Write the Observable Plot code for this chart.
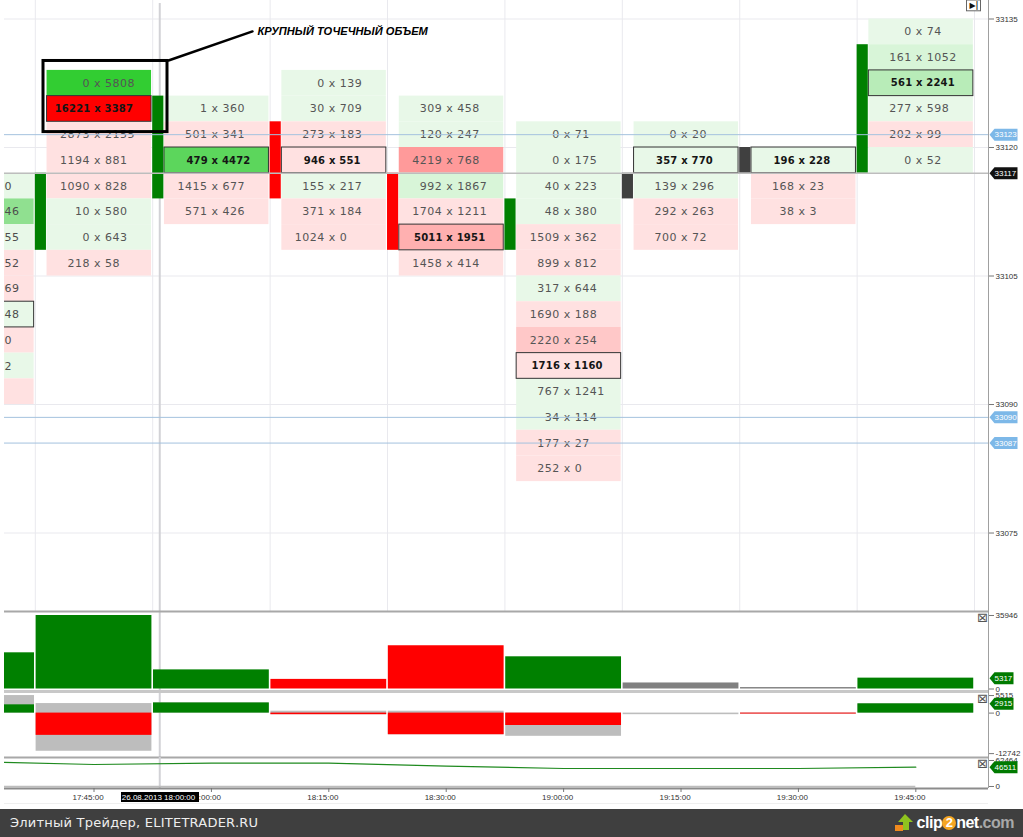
<!DOCTYPE html>
<html><head><meta charset="utf-8">
<script src="https://cdn.jsdelivr.net/npm/d3@7"></script>
<script src="https://cdn.jsdelivr.net/npm/@observablehq/plot@0.6"></script>
<style>
html,body{margin:0;padding:0;background:#fff;width:1023px;height:837px;overflow:hidden}
#chart svg{display:block}
.cell text{letter-spacing:.5px}
.poc text{letter-spacing:.2px}
#foot{height:28px;background:#3f3f3f;color:#eee;position:relative;font:13px "DejaVu Sans",sans-serif;line-height:28px;letter-spacing:.23px}
#foot .t{position:absolute;left:10px;top:0}
#foot .logo{position:absolute;right:9px;top:0;font:bold 16px "Liberation Sans",sans-serif;line-height:28px;letter-spacing:-.5px;color:#fff;display:flex;align-items:center}
#foot .two{display:inline-block;background:#f5a623;border-radius:50%;width:14px;height:14px;line-height:14px;text-align:center;font-size:13px}
#foot .com{color:#a8a8a8}
</style></head><body>
<div id="chart"></div>
<div id="foot"><span class="t">Элитный Трейдер, ELITETRADER.RU</span>
<span class="logo"><svg width="18" height="18" viewBox="0 0 18 18" style="margin-right:4px"><path d="M10 0 L18 8 H14 V16 H8 V8 H3Z" fill="#8fc31f"/><rect x="0" y="11" width="8" height="6" fill="#f08a1d"/></svg>clip<span class="two">2</span>net<span class="com">.com</span></span></div>
<script>
// ---- data ----
const slots = [0,1,2,3,4,5,6,7];
const timeLabels = ["17:45:00","18:00:00","18:15:00","18:30:00","19:00:00","19:15:00","19:30:00","19:45:00"];
const rowTop = [33129,33126,33129,33126,33123,33123,33120,33135];
const bids = [
 [0,16221,2873,1194,1090,10,0,218],
 [1,501,479,1415,571],
 [0,30,273,946,155,371,1024],
 [309,120,4219,992,1704,5011,1458],
 [0,0,40,48,1509,899,317,1690,2220,1716,767,34,177,252],
 [0,357,139,292,700],
 [196,168,38],
 [0,161,561,277,202,0]
];
const asks = [
 [5808,3387,2155,881,828,580,643,58],
 [360,341,4472,677,426],
 [139,709,183,551,217,184,0],
 [458,247,768,1867,1211,1951,414],
 [71,175,223,380,362,812,644,188,254,1160,1241,114,27,0],
 [20,770,296,263,72],
 [228,23,3],
 [74,1052,2241,598,99,52]
];
// the column cut by the left edge: only the end of each label is visible
const edgePrices = [33117,33114,33111,33108,33105,33102,33099,33096,33093];
const edgeLabels = ["0","46","55","52","69","48","0","2",""];
const edgeDelta  = [300,2500,300,-300,-300,300,-300,300,-300];
const candleTop = [33117,33126,33123,33117,33114,33117,33120,33132];
const candleBot = [33108,33114,33114,33108,33108,33114,33117,33117];
const candleDir = ["up","up","down","down","up","flat","flat","up"];
const tickPrices = [33135,33120,33105,33090,33075];
const blueLevels = [33123,33090,33087];
const lastPrice = 33117;
const volSlots = [-1,0,1,2,3,4,5,6,7];
const volValues = [17700,35946,9350,4700,21150,15750,2950,700,5317];
const volDir = ["up","up","up","down","down","up","flat","flat","up"];
const deltaClose = [2600,-7000,3200,-500,-6800,-3900,-500,-300,2915];
const deltaHigh = [5515,3000,3200,600,600,0,0,0,2915];
const deltaLow = [0,-12000,0,-500,-6800,-7300,-500,-300,0];
const cumSlots = [-1,0,1,2,3,4,5,6,7];
const cumValues = [59500,52850,55970,55970,48760,43240,43240,43240,46511];

// ---- helpers ----
const W = 1023, ML = 4, MR = 35;
const xDomain = [-0.7624, 7.619];
const pxPerSlot = (W-ML-MR)/(xDomain[1]-xDomain[0]);
const rightX = xDomain[1];
const px = p => xDomain[0] + (p-ML)/pxPerSlot;
const FONT = '"Liberation Sans",Arial,sans-serif';
const cellFont = '"DejaVu Sans",sans-serif';
const dirColor = {up:"#008000",down:"#ff0000",flat:"#808080"};
const GRID = "#e9e9ee", CROSS = "#d2d2d6", FRAME = "#a8a8a8";
const crossSlot = 0.56;
const shade = d3.scaleThreshold()
  .domain([-10000,-3300,-2900,-1800,0,870,1200,2200,3000,5000])
  .range(["#ff0000","#ff9a9a","#ffb0b0","#ffc8c8","#ffe1e1","#e8f8e8","#d8f5d8","#b8ecb8","#90e090","#5cd65c","#32cd32"]);
const cells = [];
slots.forEach(i=>{
  const vols = bids[i].map((b,k)=>b+asks[i][k]);
  const m = d3.max(vols);
  bids[i].forEach((b,k)=>{
    const poc = vols[k]===m;
    cells.push({slot:i,price:rowTop[i]-3*k,bid:b,ask:asks[i][k],poc});
  });
});
const edge = edgePrices.map((p,k)=>({price:p,label:edgeLabels[k],delta:edgeDelta[k],poc:k===5}));
const labelX = (d,digit,sp,xw)=> d.slot+0.03-(String(d.bid).length*digit+sp+xw/2)/pxPerSlot;
const tagSym = w => ({draw(c){c.moveTo(0,0);c.lineTo(5,-6);c.lineTo(w,-6);c.lineTo(w,6);c.lineTo(5,6);c.closePath();}});
const tagX = px(989);
const base = {width:W,marginLeft:ML,marginRight:MR,marginTop:0,marginBottom:0,x:{domain:xDomain,axis:null},
  style:{fontFamily:FONT,fontSize:"8px",color:"#333",background:"transparent",overflow:"visible"}};
const rightAxis = t => Plot.axisY(t,{anchor:"right",tickSize:5,tickPadding:2,label:null,tickFormat:d=>String(d),fontSize:8,stroke:"#777"});
const rightLine = Plot.ruleX([rightX],{stroke:"#a0a0a0"});
const tagMarks = (vals,w,color) => [
  Plot.dot(vals,{x:tagX,y:d=>d.at,symbol:tagSym(w),fill:color}),
  Plot.text(vals,{x:tagX,y:d=>d.at,dx:5,textAnchor:"start",fill:"#fff",fontSize:8,text:d=>String(d.v)})
];

// ---- annotation ----
const boxX = [px(43),px(167)], boxP = [33130.1,33121.8];
const leadX = [px(168),px(252)], leadP = [33130.15,33133.55];

// ---- main panel ----
const yMainDomain=[33065.84,33137.16];
const main = Plot.plot({...base,height:611,y:{domain:yMainDomain,axis:null},marks:[
  Plot.ruleX([-1,0,1,2,3,4,5,6,7].map(i=>i+.5),{stroke:GRID,clip:true}),
  Plot.ruleY(tickPrices,{stroke:GRID}),
  Plot.ruleX([crossSlot],{stroke:CROSS,strokeWidth:2,y1:33136.8,y2:yMainDomain[0]}),
  Plot.rect(edge,{x1:-1.4,x2:-0.51,y1:d=>d.price-3,y2:d=>d.price,fill:d=>shade(d.delta),clip:true}),
  Plot.rect(edge.filter(d=>d.poc),{x1:-1.4,x2:-0.51,y1:d=>d.price-3,y2:d=>d.price,fill:"none",stroke:"#333",clip:true}),
  Plot.text(edge,{frameAnchor:"left",y:d=>d.price-1.5,text:"label",fontFamily:cellFont,fontSize:11,fill:"#4d4d4d",textAnchor:"start",className:"cell"}),
  Plot.rect(cells,{x1:d=>d.slot-.4,x2:d=>d.slot+.49,y1:d=>d.price-3,y2:d=>d.price,fill:d=>shade(d.ask-d.bid)}),
  Plot.rect(cells.filter(d=>d.poc),{x1:d=>d.slot-.4,x2:d=>d.slot+.49,y1:d=>d.price-3,y2:d=>d.price,fill:"none",stroke:"#333"}),
  Plot.rect(slots,{x1:i=>i-.5,x2:i=>i-.405,y1:i=>candleBot[i],y2:i=>candleTop[i],fill:i=>candleDir[i]==="flat"?"#404040":dirColor[candleDir[i]]}),
  Plot.text(cells.filter(d=>!d.poc),{x:d=>labelX(d,7.5,4,7),y:d=>d.price-1.5,text:d=>`${d.bid} x ${d.ask}`,textAnchor:"start",fontFamily:cellFont,fontSize:11,fill:"#555",className:"cell"}),
  Plot.text(cells.filter(d=>d.poc),{x:d=>labelX(d,7.16,3.7,6.7),y:d=>d.price-1.5,text:d=>`${d.bid} x ${d.ask}`,textAnchor:"start",fontFamily:cellFont,fontSize:10,fontWeight:"bold",fill:"#151515",className:"poc"}),
  Plot.ruleY([lastPrice],{stroke:"#bdbdbd",strokeWidth:1.5}),
  Plot.ruleY(blueLevels,{y:d=>d-1.5,stroke:"#a4c2de"}),
  Plot.rect([0],{x1:boxX[0],x2:boxX[1],y1:boxP[1],y2:boxP[0],fill:"none",stroke:"#000",strokeWidth:3}),
  Plot.line(leadX.map((x,k)=>[x,leadP[k]]),{stroke:"#000",strokeWidth:2.5}),
  Plot.text(["КРУПНЫЙ ТОЧЕЧНЫЙ ОБЪЕМ"],{x:px(257),y:33133.5,textAnchor:"start",fontFamily:FONT,fontSize:11.1,fontWeight:"bold",fontStyle:"italic",fill:"#000"}),
  rightLine,
  rightAxis(tickPrices),
  Plot.rect([0],{x1:px(966.5),x2:px(980.5),y1:33135.9,y2:33137.16,fill:"#fff",stroke:"#666"}),
  Plot.text(["▶|"],{x:px(973.5),y:33136.55,fontSize:8,fontWeight:"bold",fill:"#111",fontFamily:'"DejaVu Sans"'}),
  ...tagMarks(blueLevels.map(v=>({v,at:v-1.5})),28,"#7db8e8"),
  ...tagMarks([{v:lastPrice,at:lastPrice}],28,"#111")
]});

// ---- volume panel ----
const yVol=[-1222,37902];
const vol = Plot.plot({...base,height:80,y:{domain:yVol,axis:null},marks:[
  Plot.ruleX([crossSlot],{stroke:CROSS,strokeWidth:2}),
  Plot.rectY(volSlots.map((s,k)=>k),{x1:k=>volSlots[k]-.5,x2:k=>volSlots[k]+.5,y1:0,y2:k=>volValues[k],fill:k=>dirColor[volDir[k]],insetLeft:.8,insetRight:.8,clip:true}),
  Plot.ruleY([yVol[1]],{stroke:FRAME,strokeWidth:2}),
  Plot.ruleY([yVol[0]],{stroke:"#c8c8c8",strokeWidth:3}),
  rightLine,
  rightAxis([35946,0]),
  Plot.text(["⊠"],{x:px(982),y:35000,fontSize:13,fill:"#555",fontFamily:'"DejaVu Sans"'}),
  ...tagMarks([{v:5317,at:5317}],24,"#007a00")
]});

// ---- delta panel ----
const yDelta=[-13962,6792];
const idx = d3.range(volSlots.length);
const delta = Plot.plot({...base,height:66,y:{domain:yDelta,axis:null},marks:[
  Plot.ruleX([crossSlot],{stroke:CROSS,strokeWidth:2}),
  Plot.rectY(idx,{x1:k=>volSlots[k]-.5,x2:k=>volSlots[k]+.5,y1:k=>deltaLow[k],y2:k=>deltaHigh[k],fill:"#bdbdbd",insetLeft:.8,insetRight:.8,clip:true}),
  Plot.rectY(idx.filter(k=>k!==6),{x1:k=>volSlots[k]-.5,x2:k=>volSlots[k]+.5,y1:0,y2:k=>deltaClose[k],fill:k=>deltaClose[k]>0?"#008000":"#ff0000",insetLeft:.8,insetRight:.8,clip:true}),
  Plot.ruleY([yDelta[1]],{stroke:"#c8c8c8",strokeWidth:3}),
  Plot.ruleY([yDelta[0]],{stroke:FRAME,strokeWidth:2}),
  rightLine,
  rightAxis([5515,0,-12742]),
  Plot.text(["⊠"],{x:px(982),y:4500,fontSize:13,fill:"#555",fontFamily:'"DejaVu Sans"'}),
  ...tagMarks([{v:2915,at:2915}],24,"#007a00")
]});

// ---- cumulative panel ----
const yCum=[-4805,69670];
const cum = Plot.plot({...base,height:31,y:{domain:yCum,axis:null},marks:[
  Plot.ruleX([crossSlot],{stroke:CROSS,strokeWidth:2}),
  Plot.ruleY([0],{x1:xDomain[0],x2:7,stroke:"#bdbdbd",strokeWidth:1.5}),
  Plot.line(cumSlots.map((s,k)=>[s,cumValues[k]]),{stroke:"#1f8a1f",strokeWidth:1.2,clip:true}),
  Plot.ruleY([yCum[0]],{stroke:"#8c8c8c",strokeWidth:2}),
  rightLine,
  rightAxis([62464,0]),
  Plot.text(["⊠"],{x:px(982),y:55000,fontSize:13,fill:"#555",fontFamily:'"DejaVu Sans"'}),
  ...tagMarks([{v:46511,at:46511}],28,"#007a00")
]});

// ---- time axis ----
const axisP = Plot.plot({...base,height:21,y:{domain:[0,21],reverse:true,axis:null},marks:[
  Plot.ruleX(slots,{y1:0,y2:4,stroke:"#777"}),
  Plot.ruleY([15],{stroke:"#efefef"}),
  Plot.text(slots,{x:d=>d,y:9,dx:-6,text:i=>timeLabels[i],fontSize:8,fill:"#333"}),
  Plot.rect([0],{x1:px(121),x2:px(199),y1:4,y2:14,fill:"#000"}),
  Plot.text(["26.08.2013 18:00:00"],{x:px(158),y:9,fontSize:8,fill:"#fff"})
]});

const host = document.getElementById("chart");
[main,vol,delta,cum,axisP].forEach(p=>host.append(p));
</script></body></html>
